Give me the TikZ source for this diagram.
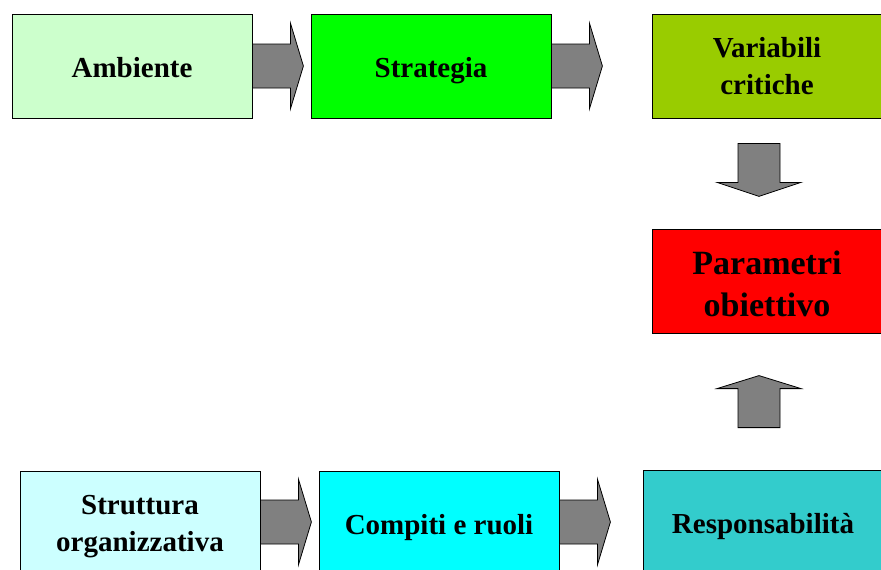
\documentclass[tikz,border=0pt]{standalone}
\usepackage{fontspec}
\setmainfont{Liberation Serif}
\usetikzlibrary{calc}
\definecolor{ambcol}{HTML}{CCFFCC}
\definecolor{strcol}{HTML}{00FF00}
\definecolor{varcol}{HTML}{99CC00}
\definecolor{parcol}{HTML}{FF0000}
\definecolor{stucol}{HTML}{CCFFFF}
\definecolor{comcol}{HTML}{00FFFF}
\definecolor{rescol}{HTML}{33CCCC}
\definecolor{arrcol}{HTML}{808080}
\tikzset{
  box/.style={draw=black,line width=0.8pt,minimum width=240pt,minimum height=104pt,
    align=center,inner sep=0pt,text height=28pt,text depth=6pt,
    font=\bfseries\fontsize{29}{37.5}\selectfont},
  twolines/.style={text height=63pt,text depth=6pt},
  blockarr/.style={draw=black,fill=arrcol,line width=0.8pt,line join=miter}
}
\newcommand{\rightarr}[1]{\draw[blockarr] (#1) ++(0,-22) -- ++(38,0) -- ++(0,-21) -- ++(13,43) -- ++(-13,43) -- ++(0,-21) -- ++(-38,0) -- cycle;}
\newcommand{\downarr}[1]{\draw[blockarr] (#1) ++(-21,0) -- ++(0,39) -- ++(-21,0) -- ++(42,14) -- ++(42,-14) -- ++(-21,0) -- ++(0,-39) -- cycle;}
\newcommand{\uparr}[1]{\draw[blockarr] (#1) ++(-21,0) -- ++(0,-39) -- ++(-21,0) -- ++(42,-13) -- ++(42,13) -- ++(-21,0) -- ++(0,39) -- cycle;}

\begin{document}
\begin{tikzpicture}[x=1pt,y=-1pt]
	%%%%% START %%%%%
	\useasboundingbox (0,0) rectangle (881,570);
	\clip (0,0) rectangle (881,570);
	\def\ytop{66}
	\def\ymid{281}
	\def\ybot{523}

	\node[box,fill=ambcol] (amb) at (132,\ytop) {Ambiente};
	\node[box,fill=strcol] (strat) at (431,\ytop) {Strategia};
	\node[box,twolines,fill=varcol,minimum width=230pt] (var) at (767,\ytop) {Variabili\\critiche};
	\node[box,fill=parcol,minimum width=230pt,text height=74pt,text depth=4pt,
	  font=\bfseries\fontsize{34}{42}\selectfont] (par) at (767,\ymid) {Parametri\\obiettivo};
	\node[box,twolines,fill=stucol] (stru) at (140,\ybot) {Struttura\\organizzativa};
	\node[box,fill=comcol] (comp) at (439,\ybot) {Compiti e ruoli};
	\node[box,fill=rescol] (resp) at (763,\ybot-1) {Responsabilità};

	\rightarr{amb.east}
	\rightarr{strat.east}
	\downarr{$(var.south)+(-8,25)$}
	\uparr{$(resp.north)+(-4,-42)$}
	\rightarr{$(stru.east)+(0,-1)$}
	\rightarr{$(comp.east)+(0,-1)$}
	%%%%% END %%%%%
\end{tikzpicture}
\end{document}
